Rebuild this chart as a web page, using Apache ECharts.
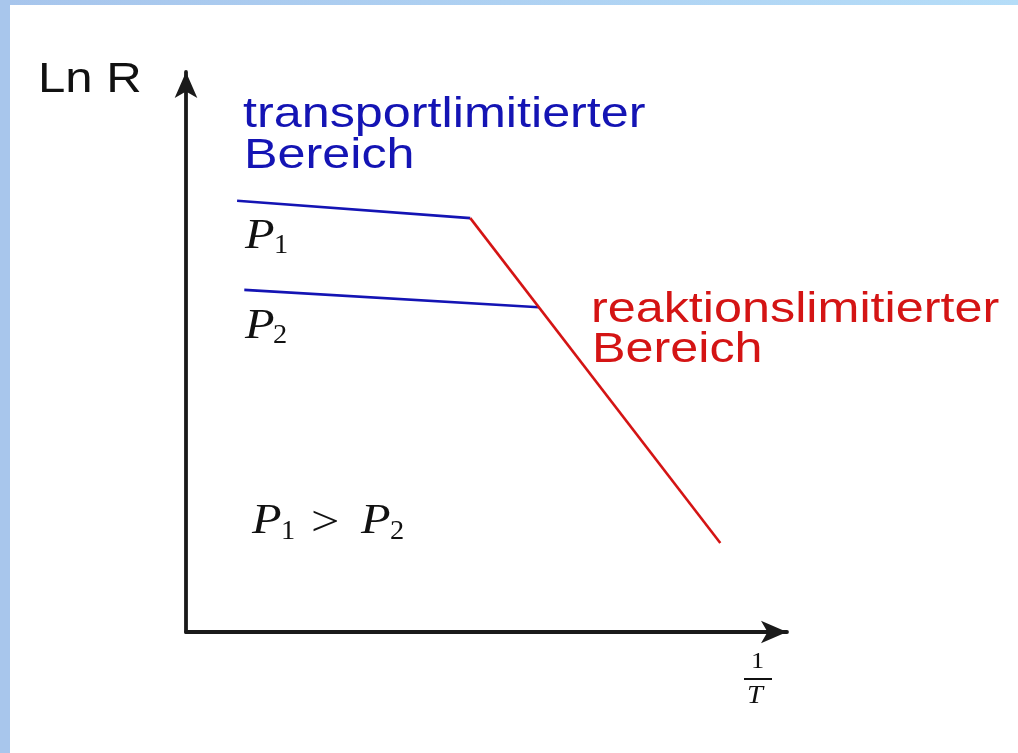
<!DOCTYPE html>
<html>
<head>
<meta charset="utf-8">
<script src="https://cdn.jsdelivr.net/npm/echarts@6/dist/echarts.min.js"></script>
<style>
  html, body { margin: 0; padding: 0; background: #ffffff; }
  #chart { width: 1018px; height: 753px; }
</style>
</head>
<body>
<div id="chart"></div>
<script>
// Schematic Arrhenius-type plot: ln R versus 1/T
const xRange = [0, 10];
const yRange = [0, 10];

// Transport-limited plateaus for the two pressures
const p1Line = [[0.85, 7.70], [4.73, 7.39]];
const p2Line = [[0.97, 6.11], [5.87, 5.80]];
// Reaction-limited branch (common to both pressures)
const reactionLine = [[4.73, 7.39], [8.89, 1.59]];

const blue = '#1414b4';
const red = '#d41414';
const axisColor = '#1a1a1a';
const SANS = '"Liberation Sans", Arial, sans-serif';
const SERIF = '"Liberation Serif", "Times New Roman", serif';
const STRETCH = 1.15;

function txt(text, x, y, font, fill, extra) {
  return Object.assign({
    type: 'text', x: x, y: y, scaleX: STRETCH, z: 10,
    style: { text: text, font: font, fill: fill, align: 'left', verticalAlign: 'middle' }
  }, extra || {});
}

const chart = echarts.init(document.getElementById('chart'), null, { renderer: 'canvas' });

const option = {
  backgroundColor: '#ffffff',
  animation: false,
  grid: { left: 186, right: 231, top: 72, bottom: 121 },
  xAxis: {
    type: 'value', min: xRange[0], max: xRange[1],
    axisLine: { show: true, onZero: false, symbol: ['none', 'arrow'], symbolSize: [17, 26],
      lineStyle: { color: axisColor, width: 3.8 } },
    axisTick: { show: false }, axisLabel: { show: false }, splitLine: { show: false }
  },
  yAxis: {
    type: 'value', min: yRange[0], max: yRange[1],
    axisLine: { show: true, onZero: false, symbol: ['none', 'arrow'], symbolSize: [17, 26],
      lineStyle: { color: axisColor, width: 3.8 } },
    axisTick: { show: false }, axisLabel: { show: false }, splitLine: { show: false }
  },
  series: [
    { name: 'P1', type: 'line', data: p1Line, symbol: 'none', lineStyle: { color: blue, width: 2.6 }, z: 3 },
    { name: 'P2', type: 'line', data: p2Line, symbol: 'none', lineStyle: { color: blue, width: 2.6 }, z: 3 },
    { name: 'reaktion', type: 'line', data: reactionLine, symbol: 'none', lineStyle: { color: red, width: 2.6 }, z: 4 }
  ],
  graphic: [
    // window frame accents
    { type: 'rect', shape: { x: 0, y: 0, width: 1018, height: 5 }, z: 20,
      style: { fill: new echarts.graphic.LinearGradient(0, 0, 1, 0, [
        { offset: 0, color: '#a7c5ec' }, { offset: 1, color: '#b5ddf8' }]) } },
    { type: 'rect', shape: { x: 0, y: 0, width: 10, height: 753 }, z: 20,
      style: { fill: '#a8c6ec' } },

    // axis titles
    txt('Ln R', 38, 80, '42px ' + SANS, '#111111', { scaleX: 1.17 }),
    txt('1', 751, 662, '24px ' + SERIF, '#111111', { scaleX: 1.1 }),
    { type: 'rect', shape: { x: 744, y: 678, width: 28, height: 2 }, z: 10, style: { fill: '#111111' } },
    txt('T', 747, 696, 'italic 26px ' + SERIF, '#111111', { scaleX: 1.1 }),

    // regime labels
    txt('transportlimitierter', 243, 115, '43px ' + SANS, blue, { scaleX: 1.17 }),
    txt('Bereich', 244, 156, '43px ' + SANS, blue, { scaleX: 1.17 }),
    txt('reaktionslimitierter', 591, 310, '43px ' + SANS, red, { scaleX: 1.17 }),
    txt('Bereich', 592, 350, '43px ' + SANS, red, { scaleX: 1.17 }),

    // pressure labels
    txt('P', 245, 237, 'italic 42px ' + SERIF, '#111111'),
    txt('1', 274, 246, '27px ' + SERIF, '#111111', { scaleX: 1.05 }),
    txt('P', 245, 327, 'italic 42px ' + SERIF, '#111111'),
    txt('2', 273, 336, '27px ' + SERIF, '#111111', { scaleX: 1.05 }),

    txt('P', 252, 522, 'italic 42px ' + SERIF, '#111111'),
    txt('1', 281, 532, '27px ' + SERIF, '#111111', { scaleX: 1.05 }),
    txt('>', 311, 524, '42px ' + SERIF, '#111111', { scaleX: 1.2 }),
    txt('P', 361, 522, 'italic 42px ' + SERIF, '#111111'),
    txt('2', 390, 532, '27px ' + SERIF, '#111111', { scaleX: 1.05 })
  ]
};

chart.setOption(option);
</script>
</body>
</html>
